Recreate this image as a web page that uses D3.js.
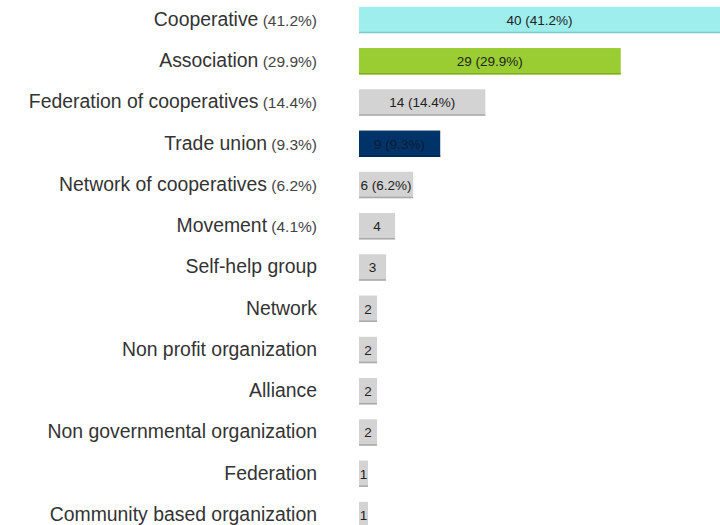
<!DOCTYPE html>
<html>
<head>
<meta charset="utf-8">
<script src="https://cdn.jsdelivr.net/npm/d3@7"></script>
<style>
  html, body { margin: 0; padding: 0; background: #fff; }
  svg { display: block; }
</style>
</head>
<body>
<svg id="chart" width="720" height="525"></svg>
<script>
// Organisation types, counts and shares
const categories = [
  "Cooperative", "Association", "Federation of cooperatives", "Trade union",
  "Network of cooperatives", "Movement", "Self-help group", "Network",
  "Non profit organization", "Alliance", "Non governmental organization",
  "Federation", "Community based organization"
];
const counts = [40, 29, 14, 9, 6, 4, 3, 2, 2, 2, 2, 1, 1];
const shares = ["41.2%", "29.9%", "14.4%", "9.3%", "6.2%", "4.1%", null, null, null, null, null, null, null];
// share shown inside the bar only for the larger groups
const showShareInBar = [true, true, true, true, true, false, false, false, false, false, false, false, false];
const fills = ["#9feeee", "#9acd32", "#d3d3d3", "#003468", "#d3d3d3", "#d3d3d3", "#d3d3d3",
               "#d3d3d3", "#d3d3d3", "#d3d3d3", "#d3d3d3", "#d3d3d3", "#d3d3d3"];
const edges = ["#7fc9c9", "#7fae22", "#a9a9a9", "#002650", "#a9a9a9", "#a9a9a9", "#a9a9a9",
               "#a9a9a9", "#a9a9a9", "#a9a9a9", "#a9a9a9", "#a9a9a9", "#a9a9a9"];
const valueInk = ["#222", "#222", "#222", "#0c1c33", "#222", "#222", "#222",
                  "#222", "#222", "#222", "#222", "#222", "#222"];

const rows = categories.map((c, i) => ({
  name: c, value: counts[i], share: shares[i], inBar: showShareInBar[i],
  fill: fills[i], edge: edges[i], ink: valueInk[i]
}));

const svg = d3.select("#chart");
const font = "'Liberation Sans', Arial, Helvetica, sans-serif";

const x = d3.scaleLinear().domain([0, 40]).range([359, 720]);
const y = d3.scaleBand()
  .domain(categories)
  .range([-0.625, 535.625])
  .paddingInner(0.36)
  .paddingOuter(0.18);

const g = svg.append("g");

const row = g.selectAll("g.row").data(rows).join("g").attr("class", "row");

// bars
row.append("rect")
  .attr("x", x(0))
  .attr("y", d => y(d.name))
  .attr("width", d => x(d.value) - x(0))
  .attr("height", y.bandwidth())
  .attr("fill", d => d.fill);

// darker lower edge of each bar
row.append("rect")
  .attr("x", x(0))
  .attr("y", d => y(d.name) + y.bandwidth() - 1.5)
  .attr("width", d => x(d.value) - x(0))
  .attr("height", 1.5)
  .attr("fill", d => d.edge);

// value labels inside the bars
row.append("text")
  .attr("x", d => (x(0) + x(d.value)) / 2)
  .attr("y", d => y(d.name) + y.bandwidth() / 2)
  .attr("dy", "0.36em")
  .attr("text-anchor", "middle")
  .attr("font-family", font)
  .attr("font-size", 13.5)
  .attr("fill", d => d.ink)
  .text(d => d.inBar ? `${d.value} (${d.share})` : `${d.value}`);

// category labels with share
const lbl = row.append("text")
  .attr("x", 317)
  .attr("y", d => y(d.name) + y.bandwidth() / 2)
  .attr("dy", "0.36em")
  .attr("text-anchor", "end")
  .attr("font-family", font)
  .attr("fill", "#333");

lbl.append("tspan")
  .attr("font-size", 19.4)
  .text(d => d.name);

lbl.filter(d => d.share)
  .append("tspan")
  .attr("font-size", 15.5)
  .attr("fill", "#444")
  .text(d => ` (${d.share})`);
</script>
</body>
</html>
